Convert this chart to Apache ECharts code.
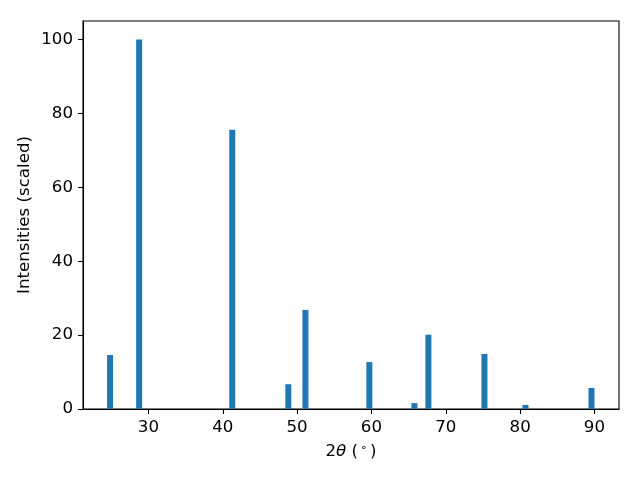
<!DOCTYPE html>
<html>
<head>
<meta charset="utf-8">
<script src="https://cdn.jsdelivr.net/npm/echarts@6/dist/echarts.min.js"></script>
<style>html,body{margin:0;padding:0;background:#fff}#c{width:640px;height:480px}</style>
</head>
<body>
<div id="c"></div>
<script>
const twoTheta = [24.84, 28.75, 41.28, 48.82, 51.12, 59.72, 65.78, 67.66, 75.2, 80.72, 89.6];
const intensities = [14.6, 100, 75.6, 6.7, 26.8, 12.7, 1.6, 20.1, 14.9, 1.1, 5.7];
const xTicks = [30, 40, 50, 60, 70, 80, 90];
const yTicks = [0, 20, 40, 60, 80, 100];

const FONT = 'DejaVu Sans';
const FS = 16.67;
const chart = echarts.init(document.getElementById('c'), null, {renderer: 'canvas'});
chart.setOption({
  animation: false,
  backgroundColor: '#fff',
  grid: {left: 83, right: 21, top: 21, bottom: 71, show: true, borderColor: '#000', borderWidth: 1.1, backgroundColor: 'transparent'},
  xAxis: {
    type: 'value', min: 21.2, max: 93.3,
    name: '{a|2}{i|θ}{a| (}{s|∘}{a|)}',
    nameLocation: 'middle', nameGap: 34, nameMoveOverlap: false,
    nameTextStyle: {
      rich: {
        a: {fontFamily: FONT, fontSize: FS, color: '#000'},
        i: {fontFamily: FONT, fontSize: FS, fontStyle: 'italic', color: '#000'},
        s: {fontFamily: FONT, fontSize: 11, color: '#000', verticalAlign: 'top', padding: [0, 3, 0, 2]}
      }
    },
    axisLine: {show: true, onZero: false, lineStyle: {color: '#000', width: 1.1}},
    axisTick: {show: true, length: 5, customValues: xTicks, lineStyle: {color: '#000', width: 1.1}},
    axisLabel: {customValues: xTicks, fontFamily: FONT, fontSize: FS, color: '#000', margin: 10},
    splitLine: {show: false}
  },
  yAxis: {
    type: 'value', min: 0, max: 105,
    name: 'Intensities (scaled)',
    nameLocation: 'middle', nameGap: 50, nameMoveOverlap: false,
    nameTextStyle: {fontFamily: FONT, fontSize: FS, color: '#000'},
    axisLine: {show: true, lineStyle: {color: '#000', width: 1.1}},
    axisTick: {show: true, length: 5, customValues: yTicks, lineStyle: {color: '#000', width: 1.1}},
    axisLabel: {customValues: yTicks, fontFamily: FONT, fontSize: FS, color: '#000', margin: 10},
    splitLine: {show: false}
  },
  series: [{
    type: 'bar',
    barWidth: 6,
    itemStyle: {color: '#1f77b4'},
    data: twoTheta.map((x, i) => [x, intensities[i]])
  }]
});
</script>
</body>
</html>
